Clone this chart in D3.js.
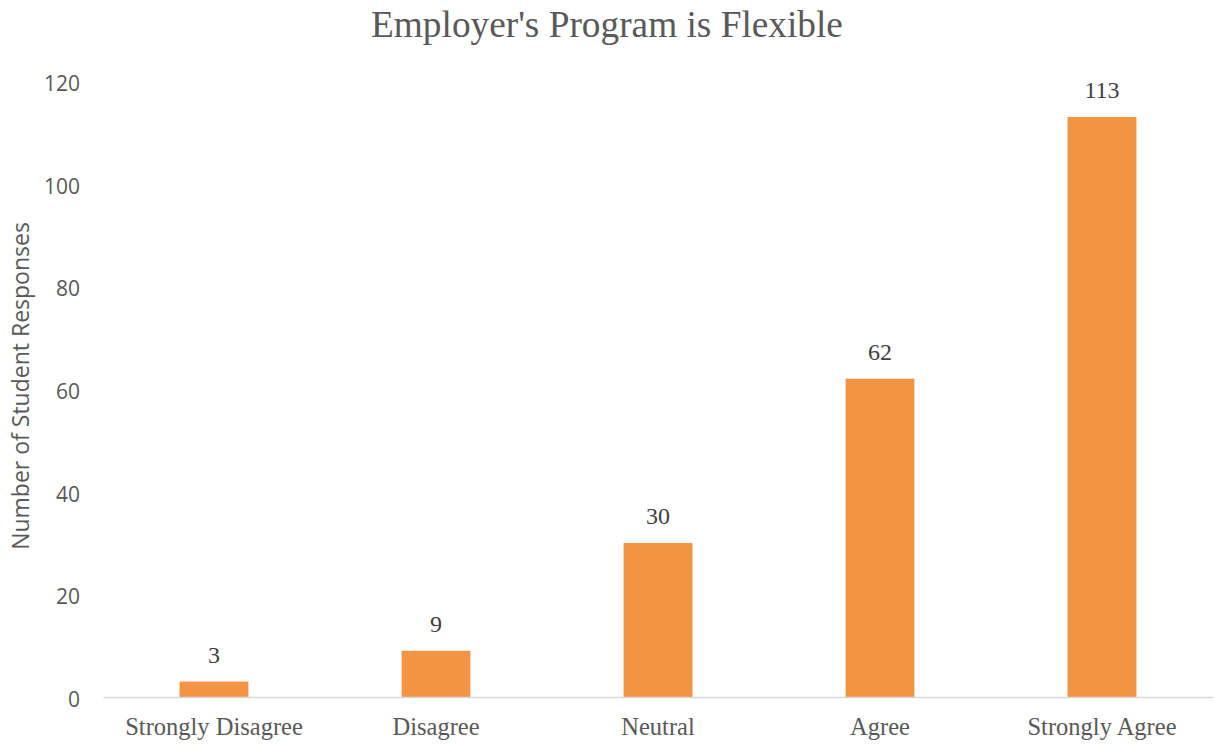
<!DOCTYPE html>
<html>
<head>
<meta charset="utf-8">
<script src="https://cdn.jsdelivr.net/npm/d3@7"></script>
<style>
  html, body { margin: 0; padding: 0; background: #fff; }
  svg { display: block; }
</style>
</head>
<body>
<svg id="chart" width="1215" height="744"></svg>
<script>
// Survey responses: "Employer's Program is Flexible"
const categories = ["Strongly Disagree", "Disagree", "Neutral", "Agree", "Strongly Agree"];
const responses = [3, 9, 30, 62, 113];
const yTicks = [0, 20, 40, 60, 80, 100, 120];
const chartTitle = "Employer's Program is Flexible";
const yAxisTitle = "Number of Student Responses";

const width = 1215, height = 744;
const margin = { top: 81, right: 2, bottom: 47, left: 103 };

const svg = d3.select("#chart");

const x = d3.scaleBand()
  .domain(categories)
  .range([margin.left, width - margin.right])
  .paddingInner(0.69)
  .paddingOuter(0.345);

const y = d3.scaleLinear()
  .domain([0, 120])
  .range([height - margin.bottom, margin.top]);

const serif = "'Liberation Serif', 'Times New Roman', serif";
const sans = "'Open Sans', 'Noto Sans', sans-serif";

// Title
svg.append("text")
  .attr("x", 607)
  .attr("y", 37)
  .attr("text-anchor", "middle")
  .attr("font-family", serif)
  .attr("font-size", 37.3)
  .attr("fill", "#595959")
  .text(chartTitle);

// Y axis: labels only, no line or ticks
const yAxis = svg.append("g")
  .attr("transform", `translate(${margin.left},0)`)
  .call(d3.axisLeft(y).tickValues(yTicks).tickSize(0).tickPadding(23));
yAxis.select(".domain").remove();
yAxis.selectAll("text")
  .attr("font-family", sans)
  .attr("font-size", 21)
  .attr("fill", "#595959")
  .attr("dy", "0.45em");

// Y axis title
svg.append("text")
  .attr("transform", `translate(29,${(y(0) + y(120)) / 2 - 3}) rotate(-90)`)
  .attr("text-anchor", "middle")
  .attr("font-family", sans)
  .attr("font-size", 23)
  .attr("fill", "#595959")
  .text(yAxisTitle);

// Bars
svg.append("g")
  .selectAll("rect")
  .data(categories.map((c, i) => ({ c, v: responses[i] })))
  .join("rect")
  .attr("x", d => x(d.c))
  .attr("y", d => y(d.v))
  .attr("width", x.bandwidth())
  .attr("height", d => y(0) - y(d.v))
  .attr("fill", "#F39443");

// X axis baseline and category labels
const xAxis = svg.append("g")
  .attr("transform", `translate(0,${y(0)})`)
  .call(d3.axisBottom(x).tickSize(0).tickPadding(18));
xAxis.select(".domain")
  .attr("stroke", "#D9D9D9")
  .attr("stroke-width", 1.5);
xAxis.selectAll("text")
  .attr("font-family", serif)
  .attr("font-size", 24.5)
  .attr("fill", "#595959")
  .attr("dy", "0.8em");

// Value labels above bars
svg.append("g")
  .selectAll("text")
  .data(categories.map((c, i) => ({ c, v: responses[i] })))
  .join("text")
  .attr("x", d => x(d.c) + x.bandwidth() / 2)
  .attr("y", d => y(d.v) - 19)
  .attr("text-anchor", "middle")
  .attr("font-family", serif)
  .attr("font-size", 24)
  .attr("fill", "#404040")
  .text(d => d.v);
</script>
</body>
</html>
